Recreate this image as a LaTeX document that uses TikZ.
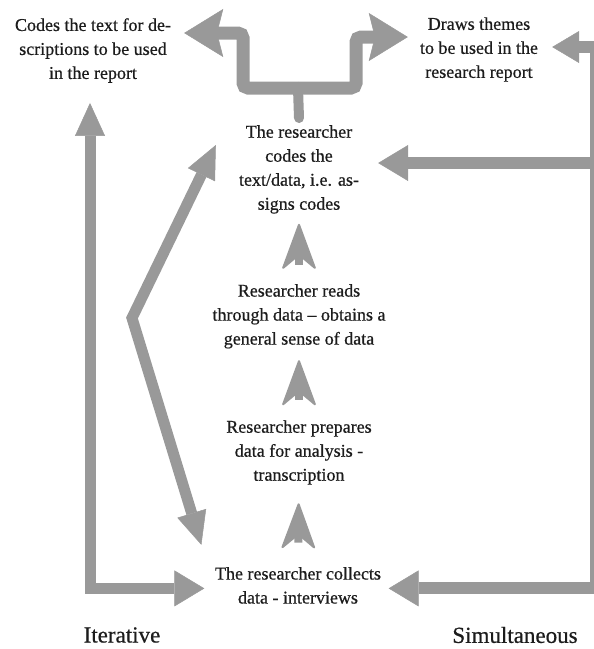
\documentclass[tikz,border=0pt]{standalone}
\usepackage{fontspec}
\setmainfont{Liberation Serif}
\newfontfamily\stagefont{Liberation Serif}[FakeBold=0.6]
\usetikzlibrary{arrows.meta,calc}
\definecolor{flowgray}{HTML}{999999}
\definecolor{inkdark}{HTML}{1C1C1C}
\tikzset{
  bighead/.tip={Triangle[length=30pt,width=36pt,line width=0.5pt]},
  tiphead/.tip={Triangle[length=33pt,width=30pt,line width=0.5pt]},
  forkhead/.tip={Stealth[length=39pt,width=48pt,inset=6pt,line width=0.5pt]},
  stephead/.tip={Stealth[length=49pt,width=36pt,inset=15pt,line width=2pt,round]}}
\begin{document}
\begin{tikzpicture}[x=1pt,y=-1pt,
  stagetext/.style={align=center, text=inkdark, inner sep=0pt,
    font=\stagefont\fontsize{18}{24}\selectfont},
  captiontext/.style={text=inkdark, inner sep=0pt,
    font=\stagefont\fontsize{23}{28}\selectfont},
  flow/.style={draw=flowgray, line width=12pt, line cap=butt},
  upstep/.style={draw=flowgray, line width=8pt, line cap=butt, -{stephead}}]
\useasboundingbox (0,0) rectangle (594,649);
\clip (0,0) rectangle (594,649);

% outcome boxes
\node[stagetext] (codesdesc) at (93,50.5)
  {Codes the text for de-\\scriptions to be used\\in the report};
\node[stagetext] (themes) at (479,49.5)
  {Draws themes\\to be used in the\\research report};

% process stages, bottom to top
\node[stagetext] (coding) at (299,169.4)
  {The researcher\\codes the\\text/data, i.e. as-\\signs codes};
\node[stagetext] (reads) at (299,316.3)
  {Researcher reads\\through data – obtains a\\general sense of data};
\node[stagetext] (prep) at (299,452.4)
  {Researcher prepares\\data for analysis -\\transcription};
\node[stagetext] (collects) at (298,585.4)
  {The researcher collects\\data - interviews};

% side captions
\node[captiontext] (iter) at (122,635) {Iterative};
\node[captiontext] (simult) at (515,635) {Simultaneous};

% rail points
\coordinate (fork) at (298,88);
\coordinate (loopbend) at (132,318);
\coordinate (railtop) at (596,47);
\coordinate (railmid) at (596,163);

% short upward steps between stages
\draw[upstep, shorten <=24.2pt, shorten >=18.5pt] (collects) -- (prep);
\draw[upstep, shorten <=20.2pt, shorten >=11.5pt] (prep) -- (reads);
\draw[upstep, shorten <=19.2pt, shorten >=10pt] (reads) -- (coding);

% coding splits into the two outcomes
\draw[flow, line width=10pt, line cap=round] ($(coding.north)+(0,-7)$) -- (fork);
\draw[flow, line width=13pt, rounded corners=5pt, -{forkhead}]
  (fork) -| (243,33) -- ($(codesdesc.east)+(13,-17.5)$);
\draw[flow, line width=13pt, rounded corners=5pt, -{forkhead}]
  (fork) -| (356,37) -- ($(themes.west)+(-12,-12.5)$);

% iterative loop on the left
\draw[flow, line width=11pt, {tiphead}-{bighead}]
  ($(codesdesc.south)+(-3,20)$) |- ($(collects.west)+(-10.5,3)$);
\draw[flow, line width=11pt, {tiphead}-{tiphead}]
  ($(coding.west)+(-23,-24.4)$) -- (loopbend) -- ($(collects.north west)+(-13.5,-22)$);

% simultaneous rail on the right
\draw[flow, {bighead}-{Triangle[length=27pt,width=32pt,line width=0.5pt]}]
  ($(collects.east)+(7.5,3)$) -| (railtop) -- ($(themes.east)+(14,-2.5)$);
\draw[flow, -{bighead}] (railmid) -- ($(coding.east)+(19,-6.4)$);
\end{tikzpicture}
\end{document}
